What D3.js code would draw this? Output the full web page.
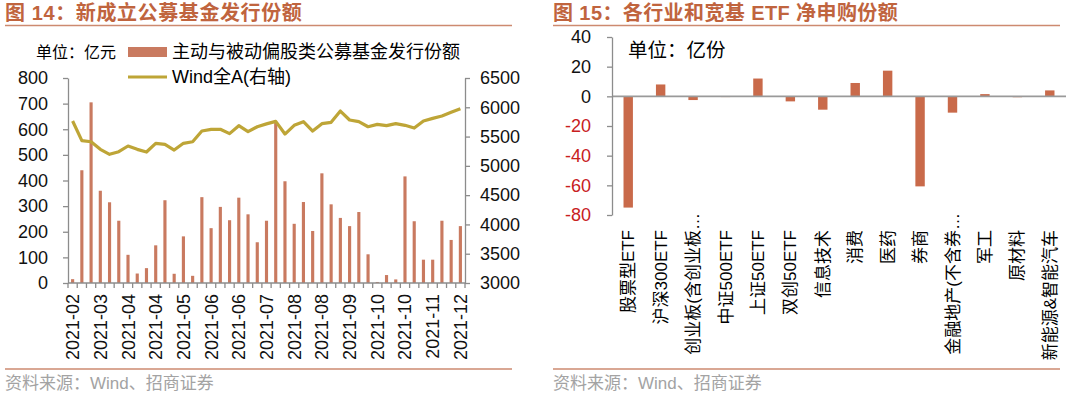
<!DOCTYPE html>
<html>
<head>
<meta charset="utf-8">
<script src="https://d3js.org/d3.v7.min.js"></script>
<style>
  body { margin: 0; background: #fff; }
  svg { display: block; font-family: "Liberation Sans", Arial, "Noto Sans CJK SC", sans-serif; }
  .axis path, .axis line { stroke: #8c8c8c; stroke-width: 1.3; }
  .axis text { fill: #111; }
</style>
</head>
<body>
<div id="chart"></div>
<script>
// weekly issue dates, left chart
var weeks = ["2021-02-19","2021-02-26","2021-03-05","2021-03-12","2021-03-19","2021-03-26",
  "2021-04-02","2021-04-09","2021-04-16","2021-04-23","2021-04-30","2021-05-07","2021-05-14",
  "2021-05-21","2021-05-28","2021-06-04","2021-06-11","2021-06-18","2021-06-25","2021-07-02",
  "2021-07-09","2021-07-16","2021-07-23","2021-07-30","2021-08-06","2021-08-13","2021-08-20",
  "2021-08-27","2021-09-03","2021-09-10","2021-09-17","2021-09-24","2021-10-01","2021-10-08",
  "2021-10-15","2021-10-22","2021-10-29","2021-11-05","2021-11-12","2021-11-19","2021-11-26",
  "2021-12-03","2021-12-10"];
// 主动与被动偏股类公募基金发行份额 (亿元)
var fundIssue = [15,440,705,360,315,243,110,37,58,147,323,36,182,28,335,214,297,245,333,268,
  159,243,628,397,231,316,203,428,307,254,222,277,112,4,31,14,416,241,91,91,243,168,222];
// Wind全A (右轴)
var windA = [5766,5430,5412,5282,5197,5242,5339,5282,5236,5385,5368,5270,5385,5412,5595,5624,
  5624,5550,5686,5583,5668,5717,5760,5543,5692,5754,5595,5720,5743,5936,5783,5754,5668,5709,
  5686,5720,5692,5646,5766,5811,5851,5914,5976];
var leftTicks = [0,100,200,300,400,500,600,700,800];
var rightTicks = [3000,3500,4000,4500,5000,5500,6000,6500];

// right chart: ETF net subscription (亿份)
var etfNames = ["股票型ETF","沪深300ETF","创业板(含创业板…","中证500ETF","上证50ETF","双创50ETF",
  "信息技术","消费","医药","券商","金融地产(不含券…","军工","原材料","新能源&智能汽车"];
var etfValues = [-75,8,-2.5,-0.5,12,-3.4,-9,9,17.3,-60.7,-11,1.5,-0.6,4];
var etfTicks = [40,20,0,-20,-40,-60,-80];

var titleColor = "#c0643e";
var ruleColor = "#cd8a70";
var barColor = "#c97a60";
var etfColor = "#c96a4a";
var lineColor = "#bea537";

var svg = d3.select("#chart").append("svg")
    .attr("width", 1080).attr("height", 395);

function makeFrame(x, title, spacing) {
  svg.append("text")
    .attr("x", x).attr("y", 20)
    .style("font-size", "20px").style("font-weight", "bold")
    .style("letter-spacing", spacing + "px")
    .style("fill", titleColor)
    .text(title);
  svg.append("line")
    .attr("x1", x).attr("x2", x + 507)
    .attr("y1", 25.5).attr("y2", 25.5)
    .style("stroke", ruleColor).style("stroke-width", 1.6);
  svg.append("line")
    .attr("x1", x).attr("x2", x + 507)
    .attr("y1", 369).attr("y2", 369)
    .style("stroke", ruleColor).style("stroke-width", 1.6);
  svg.append("text")
    .attr("x", x).attr("y", 389)
    .style("font-size", "17px")
    .style("fill", "#a3a3a3")
    .text("资料来源：Wind、招商证券");
}

function makeLeft() {
  var x = d3.scaleBand()
      .domain(d3.range(weeks.length))
      .range([68, 465])
      .paddingInner(0.66).paddingOuter(0.33);
  var y = d3.scaleLinear().domain([0, 800]).range([283, 78]);
  var y2 = d3.scaleLinear().domain([3000, 6500]).range([283, 78]);

  svg.append("g").selectAll("rect")
      .data(fundIssue)
      .enter().append("rect")
      .attr("x", function(d, i) { return x(i); })
      .attr("y", function(d) { return y(d); })
      .attr("width", x.bandwidth())
      .attr("height", function(d) { return y(0) - y(d); })
      .style("fill", barColor);

  var line = d3.line()
      .x(function(d, i) { return x(i) + x.bandwidth() / 2; })
      .y(function(d) { return y2(d); });
  svg.append("path")
      .datum(windA)
      .attr("d", line)
      .style("fill", "none")
      .style("stroke", lineColor)
      .style("stroke-width", 3.2)
      .style("stroke-linejoin", "round");

  var yAxis = svg.append("g").attr("class", "axis")
      .attr("transform", "translate(68,0)")
      .call(d3.axisLeft(y).tickValues(leftTicks).tickSize(5).tickPadding(15).tickSizeOuter(0));
  yAxis.selectAll("text").style("font-size", "18px");

  var rAxis = svg.append("g").attr("class", "axis")
      .attr("transform", "translate(465,0)")
      .call(d3.axisRight(y2).tickValues(rightTicks).tickFormat(d3.format("d"))
        .tickSize(5).tickPadding(10).tickSizeOuter(0));
  rAxis.selectAll("text").style("font-size", "18px");

  // x axis: ticks at band edges, labels every 3rd week
  var xAxis = svg.append("g").attr("class", "axis")
      .attr("transform", "translate(0,283)");
  xAxis.append("line")
      .attr("x1", 68).attr("x2", 465);
  xAxis.selectAll(".edge")
      .data(d3.range(weeks.length + 1))
      .enter().append("line")
      .attr("class", "edge")
      .attr("x1", function(i) { return 68 + i * x.step(); })
      .attr("x2", function(i) { return 68 + i * x.step(); })
      .attr("y1", 0).attr("y2", 5);
  xAxis.selectAll("text")
      .data(d3.range(weeks.length).filter(function(i) { return i % 3 === 0; }))
      .enter().append("text")
      .attr("transform", function(i) {
        return "translate(" + (x(i) + x.bandwidth() / 2 + 6.5) + ",11) rotate(-90)";
      })
      .attr("text-anchor", "end")
      .style("font-size", "18px")
      .text(function(i) { return weeks[i].slice(0, 7); });

  // unit + legend
  svg.append("text")
      .attr("x", 36).attr("y", 52).attr("dy", "0.35em")
      .style("font-size", "16px")
      .text("单位：亿元");
  svg.append("rect")
      .attr("x", 128).attr("y", 47).attr("width", 39).attr("height", 10)
      .style("fill", barColor);
  svg.append("text")
      .attr("x", 172).attr("y", 52).attr("dy", "0.35em")
      .style("font-size", "18px")
      .text("主动与被动偏股类公募基金发行份额");
  svg.append("line")
      .attr("x1", 128).attr("x2", 167).attr("y1", 77).attr("y2", 77)
      .style("stroke", lineColor).style("stroke-width", 3.2);
  svg.append("text")
      .attr("x", 172).attr("y", 77).attr("dy", "0.35em")
      .style("font-size", "18px")
      .text("Wind全A(右轴)");
}

function makeRight() {
  var x = d3.scaleBand()
      .domain(etfNames)
      .range([612, 1066])
      .paddingInner(0.71).paddingOuter(0.355);
  var y = d3.scaleLinear().domain([-80, 40]).range([215, 37]);

  svg.append("g").selectAll("rect")
      .data(etfValues)
      .enter().append("rect")
      .attr("x", function(d, i) { return x(etfNames[i]); })
      .attr("y", function(d) { return y(Math.max(0, d)); })
      .attr("width", x.bandwidth())
      .attr("height", function(d) { return Math.abs(y(d) - y(0)); })
      .style("fill", etfColor);

  svg.append("line")
      .attr("x1", 612).attr("x2", 1066)
      .attr("y1", y(0)).attr("y2", y(0))
      .style("stroke", "#9a9a9a").style("stroke-width", 1.6);

  var yAxis = svg.append("g").attr("class", "axis")
      .attr("transform", "translate(612,0)")
      .call(d3.axisLeft(y).tickValues(etfTicks).tickSize(5).tickPadding(16).tickSizeOuter(0));
  yAxis.selectAll("text")
      .style("font-size", "18px")
      .style("fill", function(d) { return d < 0 ? "#c8201e" : "#111"; })
      .text(function(d) { return d; });

  // truncated names let the ellipsis stick out above the others
  svg.append("g").selectAll("text")
      .data(etfNames)
      .enter().append("text")
      .attr("transform", function(d) {
        var top = d.slice(-1) === "…" ? 213 : 230;
        return "translate(" + (x(d) + x.bandwidth() / 2 + 6) + "," + top + ") rotate(-90)";
      })
      .attr("text-anchor", "end")
      .style("font-size", "17px")
      .text(function(d) { return d; });

  svg.append("text")
      .attr("x", 628).attr("y", 50).attr("dy", "0.35em")
      .style("font-size", "19.5px")
      .text("单位：亿份");
}

makeFrame(5, "图 14：新成立公募基金发行份额", 0.6);
makeFrame(553, "图 15：各行业和宽基 ETF 净申购份额", 0.4);
makeLeft();
makeRight();
</script>
</body>
</html>
